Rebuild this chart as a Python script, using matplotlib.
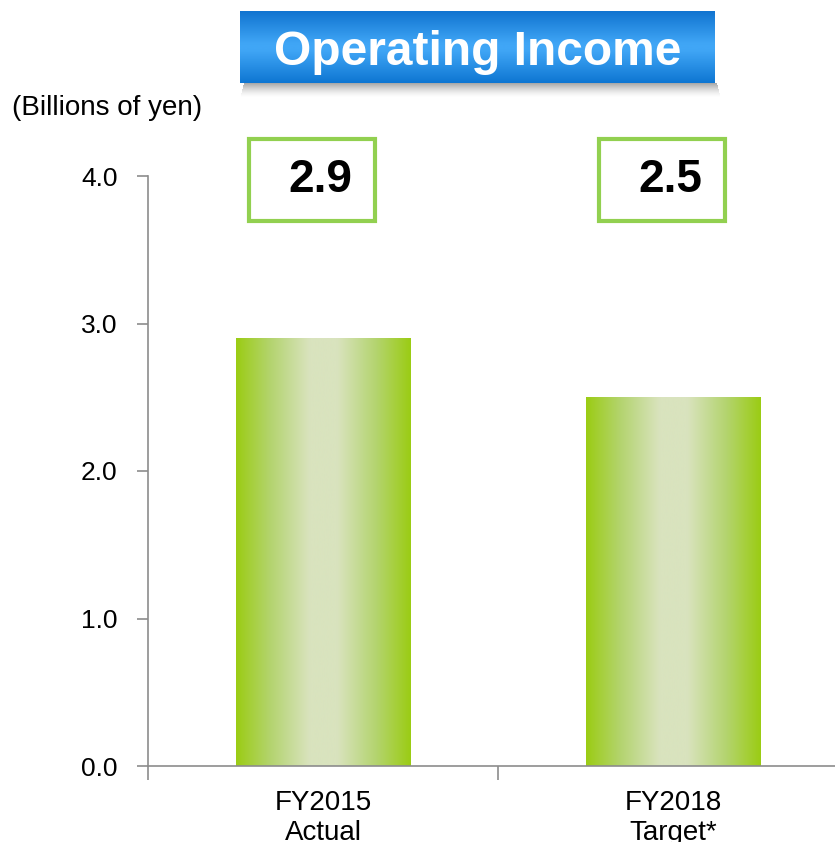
import numpy as np
import matplotlib
matplotlib.use("Agg")
import matplotlib.pyplot as plt
from matplotlib.colors import LinearSegmentedColormap
from matplotlib.patches import Rectangle

plt.rcParams['font.family'] = ['Liberation Sans', 'DejaVu Sans']

# operating income, billions of yen
categories = ["FY2015\nActual", "FY2018\nTarget*"]
values = [2.9, 2.5]
value_labels = ["2.9", "2.5"]
yticks = [0.0, 1.0, 2.0, 3.0, 4.0]

bar_cmap = LinearSegmentedColormap.from_list(
    "bar", [(0.0, "#9bcc14"), (0.2, "#b4d470"), (0.42, "#d9e3be"),
            (0.58, "#d9e3be"), (0.8, "#b4d470"), (1.0, "#9bcc14")])
title_cmap = LinearSegmentedColormap.from_list(
    "title", [(0.0, "#1174d0"), (0.45, "#40a6f6"), (0.55, "#40a6f6"), (1.0, "#0e76d2")])

fig = plt.figure(figsize=(8.35, 8.42), dpi=100)
ax = fig.add_axes([148 / 835, 76 / 842, 700 / 835, 590 / 842])

xpos = np.arange(len(values)) + 0.5
bars = ax.bar(xpos, values, width=0.5, color="none", zorder=2)

# horizontal gradient fill for each bar
grad = np.linspace(0, 1, 256).reshape(1, -1)
for b in bars:
    x0, w, h = b.get_x(), b.get_width(), b.get_height()
    im = ax.imshow(grad, cmap=bar_cmap, aspect="auto", extent=(x0, x0 + w, 0, h),
                   zorder=2, interpolation="bicubic")
    im.set_clip_path(b)

ax.set_xlim(0, 2)
ax.set_ylim(0, 4)
ax.set_yticks(yticks)
ax.set_yticklabels([f"{v:.1f}" for v in yticks], fontsize=19)
ax.set_xticks([0, 1, 2])
ax.set_xticklabels([])
ax.set_xticks(xpos, minor=True)
ax.set_xticklabels(categories, minor=True, fontsize=20, linespacing=1.2)
ax.tick_params(axis="x", which="major", length=10, width=1.2, color="#8c8c8c", direction="out")
ax.tick_params(axis="x", which="minor", length=0, pad=17)
ax.tick_params(axis="y", length=8, width=1.2, color="#8c8c8c", pad=14)
for side in ["top", "right"]:
    ax.spines[side].set_visible(False)
for side in ["left", "bottom"]:
    ax.spines[side].set_color("#8c8c8c")
    ax.spines[side].set_linewidth(1.2)

# value boxes above the bars
for x, lab in zip(xpos, value_labels):
    box = Rectangle((x - 0.2114, 3.695), 0.36, 0.555, transform=ax.transData,
                    fill=False, edgecolor="#92d050", linewidth=3, clip_on=False, zorder=3)
    ax.add_patch(box)
    ax.text(x - 0.009, 3.97, lab, fontsize=33, fontweight="bold", ha="center",
            va="center", clip_on=False)

fig.text(12 / 835, 1 - 108 / 842, "(Billions of yen)", fontsize=20, ha="left", va="center")

# title banner with a soft drop shadow
for i in range(14):
    a = 0.5 * (1 - i / 14) ** 1.5
    fig.patches.append(Rectangle((244 / 835 - i * 0.0003, 1 - (84 + i) / 842),
                                 (473 / 835) + i * 0.0006, 1 / 842,
                                 transform=fig.transFigure, color="#555555",
                                 alpha=a, lw=0, zorder=0))
tax = fig.add_axes([240 / 835, 1 - 83 / 842, 475 / 835, 72 / 842])
tax.imshow(np.linspace(0, 1, 128).reshape(-1, 1), cmap=title_cmap, aspect="auto",
           extent=(0, 1, 0, 1), interpolation="bicubic")
tax.set_xlim(0, 1)
tax.set_ylim(0, 1)
tax.axis("off")
tax.text(0.5, 0.43, "Operating Income", color="white", fontsize=34.5, fontweight="bold",
         ha="center", va="center")

fig.savefig("out.png", dpi=100)
